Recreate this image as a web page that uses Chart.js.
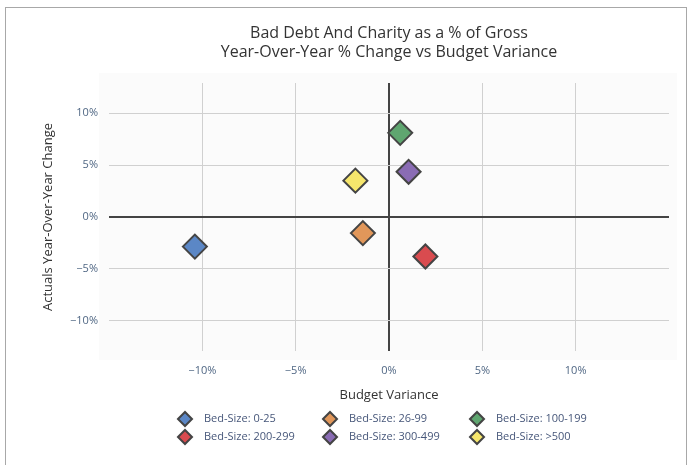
<!DOCTYPE html>
<html>
<head>
<meta charset="utf-8">
<script src="https://cdn.jsdelivr.net/npm/chart.js@4/dist/chart.umd.min.js"></script>
<style>
    html, body { margin: 0; padding: 0; background: #fff; }
    #wrap { position: relative; width: 693px; height: 465px; overflow: hidden; }
    #frame { position: absolute; left: 5px; top: 7px; width: 682px; height: 480px; border: 1.5px solid #a8a8a8; box-sizing: border-box; }
    #chart { position: absolute; left: 0; top: 0; }
</style>
</head>
<body>
<div id="wrap">
    <div id="frame"></div>
    <canvas id="chart" width="693" height="465"></canvas>
</div>
<script>
const categories = ['Bed-Size: 0-25', 'Bed-Size: 26-99', 'Bed-Size: 100-199', 'Bed-Size: 200-299', 'Bed-Size: 300-499', 'Bed-Size: >500'];
const budgetVariance = [-10.4, -1.4, 0.6, 1.95, 1.05, -1.8];
const yoyChange = [-2.85, -1.55, 8.1, -3.8, 4.35, 3.5];
const seriesColors = ['#5b87c6', '#e1975a', '#5fa670', '#d94b4f', '#8a6cb4', '#f6e66c'];
const xTickValues = [-10, -5, 0, 5, 10];
const yTickValues = [-10, -5, 0, 5, 10];

const FONT = "'Open Sans', 'Noto Sans', sans-serif";
const TICK_COLOR = '#506784';

const pct = (v) => (v < 0 ? '\u2212' : '') + Math.abs(v) + '%';

// light panel behind the plot, a bit larger than the grid itself
const plotBackground = {
    id: 'plotBackground',
    beforeDraw(chart) {
        const { ctx, chartArea: a } = chart;
        ctx.save();
        ctx.fillStyle = '#fbfbfb';
        ctx.fillRect(a.left - 10, a.top - 10, a.right - a.left + 18, a.bottom - a.top + 19);
        ctx.restore();
    }
};

// three-column legend under the x axis title
const gridLegend = {
    id: 'gridLegend',
    afterDraw(chart) {
        const { ctx, chartArea: a } = chart;
        const cx = (a.left + a.right) / 2;
        const colOffsets = [-204, -59, 88];
        const rowYs = [a.bottom + 68, a.bottom + 86];
        ctx.save();
        ctx.font = '11px ' + FONT;
        ctx.textBaseline = 'middle';
        ctx.textAlign = 'left';
        chart.data.datasets.forEach((ds, i) => {
            const x = cx + colOffsets[i % 3];
            const y = rowYs[Math.floor(i / 3)];
            ctx.fillStyle = ds.backgroundColor;
            ctx.strokeStyle = '#444';
            ctx.lineWidth = 2;
            Chart.helpers.drawPoint(ctx, { pointStyle: 'rectRot', radius: 7, borderWidth: 2 }, x, y);
            ctx.fillStyle = '#47577a';
            ctx.fillText(ds.label, x + 19, y);
        });
        ctx.restore();
    }
};

const gridColor = (c) => (c.tick && c.tick.value === 0 ? '#444' : '#d0d0d0');
const gridWidth = (c) => (c.tick && c.tick.value === 0 ? 2 : 1);

const datasets = categories.map((name, i) => ({
    label: name,
    data: [{ x: budgetVariance[i], y: yoyChange[i] }],
    backgroundColor: seriesColors[i],
    borderColor: '#444',
    borderWidth: 2,
    pointStyle: 'rectRot',
    pointRadius: 12,
    pointHoverRadius: 12
}));

new Chart(document.getElementById('chart'), {
    type: 'scatter',
    data: { datasets },
    plugins: [plotBackground, gridLegend],
    options: {
        responsive: false,
        animation: false,
        layout: { padding: { top: 0, left: 0, right: 24, bottom: 60 } },
        plugins: {
            legend: { display: false },
            tooltip: { enabled: false },
            title: {
                display: true,
                fullSize: false,
                text: ['Bad Debt And Charity as a % of Gross', 'Year-Over-Year % Change vs Budget Variance'],
                color: '#333',
                font: { family: FONT, size: 16, weight: 'normal', lineHeight: 1.2 },
                padding: { top: 24, bottom: 20.6 }
            }
        },
        scales: {
            x: {
                type: 'linear',
                min: -15,
                max: 15,
                afterFit(scale) { scale.height = 54; },
                afterBuildTicks(scale) { scale.ticks = xTickValues.map(v => ({ value: v })); },
                border: { display: false },
                grid: { color: gridColor, lineWidth: gridWidth, drawTicks: false },
                ticks: {
                    padding: 13,
                    color: TICK_COLOR,
                    font: { family: FONT, size: 11 },
                    callback: pct
                },
                title: {
                    display: true,
                    text: 'Budget Variance',
                    color: '#333',
                    font: { family: FONT, size: 13 },
                    padding: { top: 0, bottom: 2 }
                }
            },
            y: {
                type: 'linear',
                min: -12.9,
                max: 12.9,
                afterFit(scale) { scale.width = 109; },
                afterBuildTicks(scale) { scale.ticks = yTickValues.map(v => ({ value: v })); },
                border: { display: false },
                grid: { color: gridColor, lineWidth: gridWidth, drawTicks: false },
                ticks: {
                    padding: 11,
                    color: TICK_COLOR,
                    font: { family: FONT, size: 11 },
                    callback: pct
                },
                title: {
                    display: true,
                    text: 'Actuals Year-Over-Year Change',
                    color: '#333',
                    font: { family: FONT, size: 13 },
                    padding: { top: 40, bottom: 0 }
                }
            }
        }
    }
});
</script>
</body>
</html>
